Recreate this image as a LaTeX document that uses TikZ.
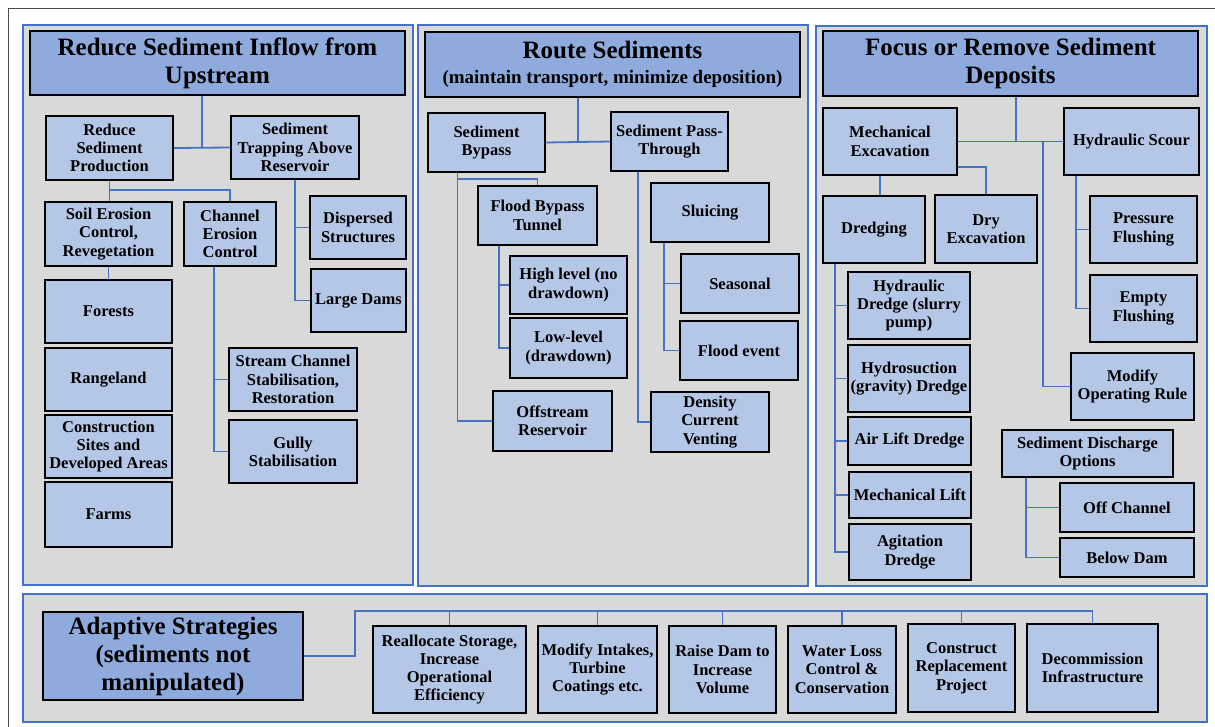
\documentclass[tikz,border=0pt]{standalone}
\usepackage{fontspec}
\setmainfont{Liberation Serif}
\definecolor{panelgray}{HTML}{D9D9D9}
\definecolor{linkblue}{HTML}{4472C4}
\definecolor{headblue}{HTML}{8FAADC}
\definecolor{itemblue}{HTML}{B4C7E7}
\newcommand{\headfont}{\fontsize{25}{28}\selectfont\bfseries}
\newcommand{\itemfont}{\fontsize{16.5}{18.3}\selectfont\bfseries}
\newcommand{\subfont}{\fontsize{19}{22}\selectfont\bfseries}
\begin{document}
\begin{tikzpicture}[x=1pt,y=-1pt,every node/.style={black},
  panel/.style={draw=linkblue,line width=2pt,fill=panelgray},
  head/.style={draw,line width=2pt,fill=headblue,inner sep=0pt,align=center,font=\headfont},
  item/.style={draw,line width=1.8pt,fill=itemblue,inner sep=0pt,align=center,font=\itemfont},
  link/.style={draw=linkblue,line width=1.8pt}]
\useasboundingbox (0,0) rectangle (1215,726);
\fill[white] (0,0) rectangle (1215,726);
\draw[gray!60!black,line width=1pt] (8,8) rectangle (1240,750);

\draw[panel] (23,25) rectangle (413,585);
\draw[panel] (418,25) rectangle (808,586);
\draw[panel] (816,26) rectangle (1207,586);
\draw[panel] (23,594) rectangle (1207,722);

\node[head,minimum width=375,minimum height=64] (upstream) at (217.5,63) {Reduce Sediment Inflow from\\Upstream};
\node[item,minimum width=127,minimum height=64] (production) at (109.5,148) {Reduce\\Sediment\\Production};
\node[item,minimum width=128,minimum height=63] (trapping) at (295,147.5) {Sediment\\Trapping Above\\Reservoir};
\node[item,minimum width=127,minimum height=64] (soil) at (108.5,234) {Soil Erosion\\Control,\\Revegetation};
\node[item,minimum width=92,minimum height=64] (channel) at (230,234) {Channel\\Erosion\\Control};
\node[item,minimum width=96,minimum height=63] (dispersed) at (358,227.5) {Dispersed\\Structures};
\node[item,minimum width=95,minimum height=63] (largedams) at (358.5,300.5) {Large Dams};
\node[item,minimum width=127,minimum height=63] (forests) at (108.5,311.5) {Forests};
\node[item,minimum width=127,minimum height=63] (rangeland) at (108.5,379.5) {Rangeland};
\node[item,minimum width=127,minimum height=63] (sites) at (108.5,446.5) {Construction\\Sites and\\Developed Areas};
\node[item,minimum width=127,minimum height=65] (farms) at (108.5,514.5) {Farms};
\node[item,minimum width=128,minimum height=63] (stream) at (293,379.5) {Stream Channel\\Stabilisation,\\Restoration};
\node[item,minimum width=128,minimum height=63] (gully) at (293,451.5) {Gully\\Stabilisation};

\draw[link] (production.east) -- coordinate[pos=0.5] (ja) (trapping.west);
\draw[link] (ja) -- (ja |- upstream.south);
\path (production.south) -- coordinate[pos=0.45] (jb) (production.south |- soil.north);
\draw[link] (production.south) -- (production.south |- soil.north);
\draw[link] (jb) -| (channel.north);
\draw[link] (soil.south) -- (soil.south |- forests.north);
\draw[link] (trapping.south) |- (dispersed.west);
\draw[link] (trapping.south) |- (largedams.west);
\draw[link] ([xshift=-16pt]channel.south) |- (stream.west);
\draw[link] ([xshift=-16pt]channel.south) |- (gully.west);

\node[head,minimum width=375,minimum height=65] (route) at (612.5,64.5) {Route Sediments\\[-3pt]{\subfont (maintain transport, minimize deposition)}};
\node[item,minimum width=117,minimum height=59] (bypass) at (486.5,142.5) {Sediment\\Bypass};
\node[item,minimum width=117,minimum height=59] (passthrough) at (669.5,141.5) {Sediment Pass-\\Through};
\node[item,minimum width=119,minimum height=59] (tunnel) at (537.5,215.5) {Flood Bypass\\Tunnel};
\node[item,minimum width=118,minimum height=59] (sluicing) at (710,212.5) {Sluicing};
\node[item,minimum width=117,minimum height=58] (highlevel) at (568.5,285) {High level (no\\drawdown)};
\node[item,minimum width=118,minimum height=59] (seasonal) at (740,283.5) {Seasonal};
\node[item,minimum width=117,minimum height=60] (lowlevel) at (568.5,348) {Low-level\\(drawdown)};
\node[item,minimum width=118,minimum height=59] (floodevent) at (739,350.5) {Flood event};
\node[item,minimum width=119,minimum height=60] (offstream) at (552.5,421) {Offstream\\Reservoir};
\node[item,minimum width=118,minimum height=60] (venting) at (710,422) {Density\\Current\\Venting};

\draw[link] (bypass.east) -- coordinate[pos=0.5] (jc) (passthrough.west);
\draw[link] (jc) -- (jc |- route.south);
\coordinate (bx) at ([xshift=-29pt]bypass.south);
\path (bypass.south) -- coordinate[pos=0.5] (jd) (bypass.south |- tunnel.north);
\draw[link] (bx) |- (offstream.west);
\draw[link] (bx |- jd) -| (tunnel.north);
\draw[link] ([xshift=22pt]tunnel.south west) |- (highlevel.west);
\draw[link] ([xshift=22pt]tunnel.south west) |- (lowlevel.west);
\draw[link] ([xshift=28pt]passthrough.south west) |- (venting.west);
\draw[link] ([xshift=14pt]sluicing.south west) |- (seasonal.west);
\draw[link] ([xshift=14pt]sluicing.south west) |- (floodevent.west);

\node[head,minimum width=375,minimum height=65] (deposits) at (1010.5,63.5) {Focus or Remove Sediment\\Deposits};
\node[item,minimum width=134,minimum height=67] (excavation) at (890,141.5) {Mechanical\\Excavation};
\node[item,minimum width=135,minimum height=67] (scour) at (1131.5,141.5) {Hydraulic Scour};
\node[item,minimum width=102,minimum height=67] (dredging) at (874,229.5) {Dredging};
\node[item,minimum width=102,minimum height=68] (dry) at (986,229) {Dry\\Excavation};
\node[item,minimum width=107,minimum height=67] (pressure) at (1143.5,229.5) {Pressure\\Flushing};
\node[item,minimum width=122,minimum height=67] (slurry) at (909,305.5) {Hydraulic\\Dredge (slurry\\pump)};
\node[item,minimum width=107,minimum height=67] (empty) at (1143.5,308.5) {Empty\\Flushing};
\node[item,minimum width=122,minimum height=67] (hydrosuction) at (909,378.5) {Hydrosuction\\(gravity) Dredge};
\node[item,minimum width=123,minimum height=67] (operating) at (1132.5,386.5) {Modify\\Operating Rule};
\node[item,minimum width=123,minimum height=48] (airlift) at (909.5,441) {Air Lift Dredge};
\node[item,minimum width=171,minimum height=47] (discharge) at (1087.5,453.5) {Sediment Discharge\\Options};
\node[item,minimum width=122,minimum height=46] (mechlift) at (910,495) {Mechanical Lift};
\node[item,minimum width=134,minimum height=49] (offchannel) at (1127,507.5) {Off Channel};
\node[item,minimum width=122,minimum height=56] (agitation) at (910,552) {Agitation\\Dredge};
\node[item,minimum width=134,minimum height=39] (belowdam) at (1127,557.5) {Below Dam};

\draw[link] (excavation.east) -- coordinate[pos=0.55] (je) coordinate[pos=0.81] (jf) (scour.west);
\draw[link] (je) -- (je |- deposits.south);
\draw[link] (jf) |- (operating.west);
\draw[link] ([xshift=-10pt]excavation.south) -- ([xshift=-10pt]excavation.south |- dredging.north);
\draw[link] ([yshift=9pt]excavation.south east) -| (dry.north);
\draw[link] ([xshift=13pt]scour.south west) |- (pressure.west);
\draw[link] ([xshift=13pt]scour.south west) |- (empty.west);
\foreach \n in {slurry,hydrosuction,airlift,mechlift,agitation}
  \draw[link] ([xshift=13pt]dredging.south west) |- (\n.west);
\draw[link] ([xshift=25pt]discharge.south west) |- (offchannel.west);
\draw[link] ([xshift=25pt]discharge.south west) |- (belowdam.west);

\node[head,minimum width=260,minimum height=88] (adaptive) at (173,656) {Adaptive Strategies\\(sediments not\\manipulated)};
\node[item,minimum width=153,minimum height=87] (reallocate) at (449.5,669.5) {Reallocate Storage,\\Increase\\Operational\\Efficiency};
\node[item,minimum width=119,minimum height=87] (intakes) at (597.5,669.5) {Modify Intakes,\\Turbine\\Coatings etc.};
\node[item,minimum width=107,minimum height=87] (raise) at (722.5,669.5) {Raise Dam to\\Increase\\Volume};
\node[item,minimum width=108,minimum height=87] (waterloss) at (842,669.5) {Water Loss\\Control \&\\Conservation};
\node[item,minimum width=107,minimum height=88] (replacement) at (961.5,668) {Construct\\Replacement\\Project};
\node[item,minimum width=131,minimum height=88] (decommission) at (1092.5,668) {Decommission\\Infrastructure};

\coordinate (kb) at ([xshift=-17pt]reallocate.west |- adaptive.north);
\draw[link] (adaptive.east) -| (kb) -| (decommission.north);
\foreach \n in {reallocate,intakes,raise,waterloss,replacement}
  \draw[link] (\n.north) -- (\n.north |- adaptive.north);
\end{tikzpicture}
\end{document}
